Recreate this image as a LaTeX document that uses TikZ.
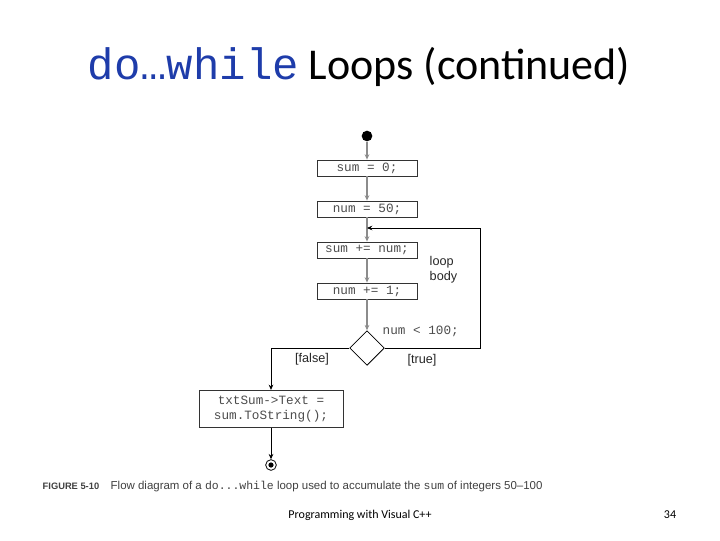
\documentclass[tikz,border=0pt]{standalone}
\usepackage{fontspec}
\setmainfont{Carlito}
\setsansfont{Liberation Sans}
\setmonofont{Liberation Mono}
\usetikzlibrary{arrows.meta,shapes.geometric}
\definecolor{titleblue}{RGB}{30,60,170}
\begin{document}
\begin{tikzpicture}[x=0.75pt,y=-0.75pt,
  act/.style={draw=black!80,line width=0.6pt,minimum width=75pt,minimum height=12pt,inner sep=1pt,font=\ttfamily\fontsize{9.5}{11}\selectfont,text=black!70},
  flow/.style={draw=black!45,line width=0.8pt,-{Stealth[length=4pt,width=3.5pt]}},
  lab/.style={font=\sffamily\fontsize{9.5}{11}\selectfont,text=black!85}]
\useasboundingbox (0,0) rectangle (720,540);
\node (title) at (359,67) {\fontsize{33}{36}\selectfont\textcolor{titleblue}{\ttfamily\fontsize{33}{36}\selectfont do…while} Loops (continued)};
\node[circle,fill,inner sep=0pt,minimum size=8pt] (start) at (367,136) {};
\node[act] (b1) at (367,168) {sum = 0;};
\node[act] (b2) at (367,209) {num = 50;};
\node[act] (b3) at (367,250) {sum += num;};
\node[act] (b4) at (367,291) {num += 1;};
\node[draw=black,line width=0.6pt,diamond,minimum width=26pt,minimum height=26pt,inner sep=0pt] (d) at (367,348) {};
\coordinate (m) at (367,228);
\draw[flow] (start) -- (b1);
\draw[flow] (b1) -- (b2);
\draw[flow] (b2) -- (b3);
\draw[flow] (b3) -- (b4);
\draw[flow] (b4) -- (d);
\draw[line width=0.6pt,-{Stealth[length=4pt,width=3.5pt]}] (d.east) -- (480,348) -- (480,228) -- (m);
\node[lab,align=left,anchor=west] (lb) at (425,270) {loop\\body};
\node[font=\ttfamily\fontsize{9.5}{11}\selectfont,text=black!70,anchor=west] (cond) at (378,331) {num < 100;};
\node[lab] (f) at (312,359) {[false]};
\node[lab] (t) at (422,360) {[true]};
\node[act,minimum width=108pt,minimum height=28pt,align=center] (b5) at (271,409) {txtSum->Text =\\sum.ToString();};
\draw[line width=0.6pt,-{Stealth[length=4pt,width=3.5pt]}] (d.west) -- (271,348) -- (b5.north);
\node[draw,circle,inner sep=0pt,minimum size=8pt,line width=0.6pt] (end) at (271,465) {};
\fill (end) circle (2.6);
\draw[line width=0.6pt,-{Stealth[length=4pt,width=3.5pt]}] (b5) -- (end);
\node[anchor=west,font=\sffamily\fontsize{8.6}{10}\selectfont,text=black!75] (cap) at (38,487) {{\bfseries\fontsize{7}{8}\selectfont FIGURE 5-10}\quad Flow diagram of a {\ttfamily do...while} loop used to accumulate the {\ttfamily sum} of integers 50--100};
\node[font=\fontsize{9}{10}\selectfont] (foot) at (360,515) {Programming with Visual C++};
\node[font=\fontsize{9}{10}\selectfont] (pg) at (670,515) {34};
\end{tikzpicture}
\end{document}
